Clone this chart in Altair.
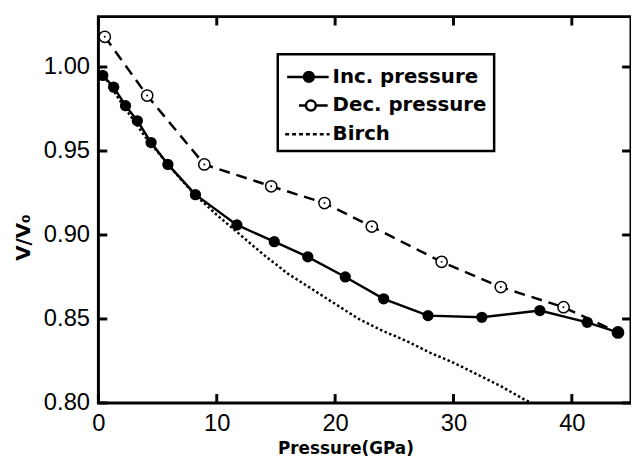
import altair as alt
import pandas as pd

# ---- data ----
inc_p = [0.37, 1.29, 2.29, 3.29, 4.45, 5.87, 8.20, 11.70, 14.86, 17.69, 20.86, 24.1, 27.85, 32.4, 37.3, 41.3, 43.9]
inc_v = [0.995, 0.988, 0.977, 0.968, 0.955, 0.942, 0.924, 0.906, 0.896, 0.887, 0.875, 0.862, 0.852, 0.851, 0.855, 0.848, 0.842]

dec_p = [43.9, 39.3, 34.0, 29.0, 23.1, 19.1, 14.6, 8.95, 4.12, 0.54]
dec_v = [0.842, 0.857, 0.869, 0.884, 0.905, 0.919, 0.929, 0.942, 0.983, 1.018]

birch_p = [0, 2, 4, 6, 8, 10, 12, 14, 16, 18, 20, 22, 24, 26, 28, 30, 32, 34, 36, 36.6]
birch_v = [1.000, 0.978, 0.958, 0.941, 0.925, 0.912, 0.900, 0.888, 0.877, 0.868, 0.859, 0.850,
           0.843, 0.837, 0.830, 0.824, 0.817, 0.810, 0.802, 0.800]

series = ["Inc. pressure", "Dec. pressure", "Birch"]
x_ticks = [0, 10, 20, 30, 40]
y_ticks = [0.80, 0.85, 0.90, 0.95, 1.00]

inc = pd.DataFrame({"P": inc_p, "V": inc_v, "s": series[0]})
dec = pd.DataFrame({"P": dec_p, "V": dec_v, "s": series[1]})
birch = pd.DataFrame({"P": birch_p, "V": birch_v, "s": series[2]})
xt = pd.DataFrame({"P": x_ticks})
yt = pd.DataFrame({"V": y_ticks})

XDOM = [0, 45]
YDOM = [0.80, 1.03]
W, H = 539, 391
TICK = 9

LABEL_FONT = "Liberation Sans"
BOLD_FONT = "DejaVu Sans"

xs = alt.Scale(domain=XDOM, nice=False, zero=False)
ys = alt.Scale(domain=YDOM, nice=False, zero=False)

x_axis = alt.Axis(values=x_ticks, title="Pressure(GPa)", domain=False, grid=False, ticks=False,
                  labelPadding=9, labelFont=LABEL_FONT, labelFontSize=24, labelColor="black",
                  labelFlush=False, labelOverlap=False,
                  titleFont=BOLD_FONT, titleFontSize=17, titleFontWeight="bold", titleColor="black",
                  titleX=250, titleY=46, titleBaseline="middle",
                  titleAlign="center", orient="bottom")
y_axis = alt.Axis(values=y_ticks, format=".2f", title="V/V₀", domain=False, grid=False, ticks=False,
                  labelPadding=9, labelFont=LABEL_FONT, labelFontSize=24, labelColor="black",
                  labelOverlap=False,
                  titleFont=BOLD_FONT, titleFontSize=20, titleFontWeight="bold", titleColor="black",
                  titleX=-76, titleY=223, titleBaseline="middle", titleAlign="center",
                  titleAngle=270, orient="left")

X = alt.X("P:Q", scale=xs, axis=x_axis)
Y = alt.Y("V:Q", scale=ys, axis=y_axis)

# inward tick marks on all four edges, placed by the shared scales
tick_style = dict(color="black", strokeWidth=3)
ticks_bottom = alt.Chart(xt).mark_rule(**tick_style).encode(x=X, y=alt.value(H), y2=alt.value(H - TICK))
ticks_top = alt.Chart(xt).mark_rule(**tick_style).encode(x=X, y=alt.value(0), y2=alt.value(TICK))
ticks_left = alt.Chart(yt).mark_rule(**tick_style).encode(y=Y, x=alt.value(0), x2=alt.value(TICK))
ticks_right = alt.Chart(yt).mark_rule(**tick_style).encode(y=Y, x=alt.value(W), x2=alt.value(W - TICK))

birch_line = alt.Chart(birch).mark_line(color="black", strokeWidth=2.5, strokeDash=[2.5, 2.5], clip=True).encode(x=X, y=Y)
dec_line = alt.Chart(dec).mark_line(color="black", strokeWidth=2.5, strokeDash=[11, 7]).encode(x=X, y=Y)
dec_pts = alt.Chart(dec).mark_point(shape="circle", size=130, filled=True, fill="white",
                                    stroke="black", strokeWidth=1.5, opacity=1).encode(x=X, y=Y)
dec_dots = alt.Chart(dec).mark_point(shape="circle", size=4, filled=True, color="black",
                                     opacity=1).encode(x=X, y=Y)
inc_line = alt.Chart(inc).mark_line(color="black", strokeWidth=2.5).encode(x=X, y=Y)
inc_pts = alt.Chart(inc).mark_point(shape="circle", size=130, filled=True, color="black",
                                    opacity=1).encode(x=X, y=Y)

# legend symbols: line + marker paths (symbolSize 841 -> 14.5 px per path unit)
u = 14.5
r = 5 / u


def circle_at(cx):
    c = cx / u
    return (f"M{c + r:.3f},0A{r:.3f},{r:.3f} 0 1,1 {c - r:.3f},0"
            f"A{r:.3f},{r:.3f} 0 1,1 {c + r:.3f},0Z")


inc_sym = f"M{-21/u:.3f},0H{21/u:.3f}" + circle_at(1)
dec_sym = f"M{-9/u:.3f},0H{3/u - r:.3f}M{3/u + r:.3f},0H{20/u:.3f}" + circle_at(3)
dash = ""
x0 = -23.0
while x0 < 21:
    dash += f"M{x0/u:.3f},0H{min(x0 + 4, 22)/u:.3f}"
    x0 += 7
birch_sym = dash

leg = alt.Legend(title=None, orient="none", legendX=181.5, legendY=38, padding=7,
                 strokeColor="black", fillColor="white",
                 labelFont=BOLD_FONT, labelFontSize=20, labelFontWeight="bold", labelColor="black",
                 labelExpr="datum.label + '            '",
                 labelOffset=9, symbolSize=841, symbolStrokeColor="black", symbolStrokeWidth=2.5,
                 symbolOffset=7.5, rowPadding=2)

legend_layer = alt.Chart(pd.concat([inc, dec, birch])).transform_filter("false").mark_point(
    filled=True, opacity=1).encode(
    x=X,
    y=Y,
    shape=alt.Shape("s:N", scale=alt.Scale(domain=series, range=[inc_sym, dec_sym, birch_sym]), legend=leg),
    fill=alt.Fill("s:N", scale=alt.Scale(domain=series, range=["black", "white", "transparent"]), legend=leg),
    stroke=alt.Stroke("s:N", scale=alt.Scale(domain=series, range=["black", "black", "black"]), legend=leg),
)

chart = alt.layer(ticks_bottom, ticks_top, ticks_left, ticks_right,
                  birch_line, dec_line, dec_pts, dec_dots, inc_line, inc_pts, legend_layer).properties(
    width=W, height=H,
    autosize=alt.AutoSizeParams(type="none"),
    padding={"left": 91.5, "top": 6, "right": 0, "bottom": 55},
    background="white",
).configure_view(stroke="black", strokeWidth=3).configure_legend(strokeWidth=2.5)

chart.save("out.html", embed_options={"renderer": "svg", "actions": False})
